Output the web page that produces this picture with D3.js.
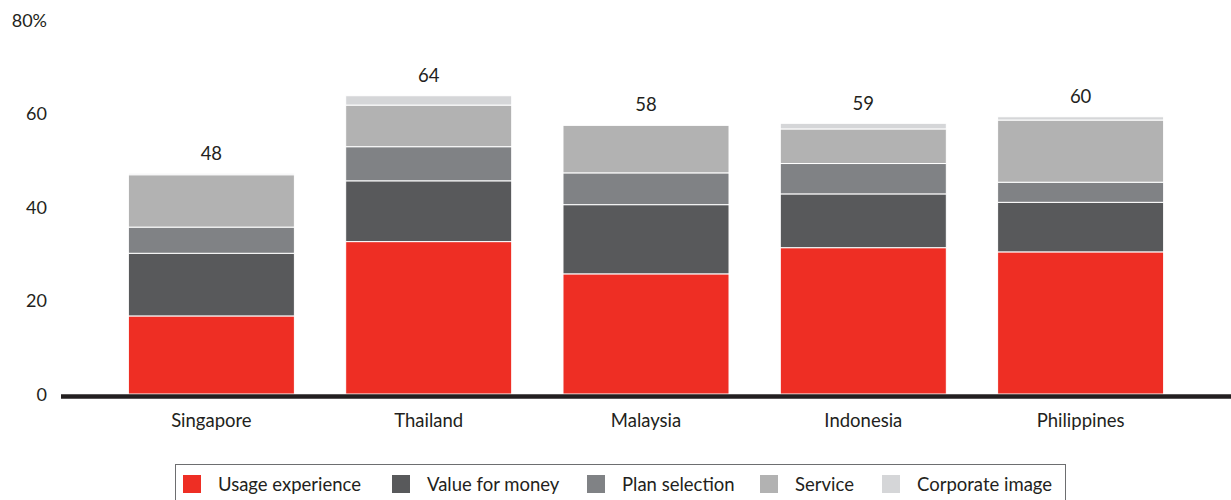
<!DOCTYPE html>
<html>
<head>
<meta charset="utf-8">
<script src="https://cdn.jsdelivr.net/npm/d3@7"></script>
<style>
  html, body { margin: 0; padding: 0; background: #fff; }
  svg text { font-family: "Lato", "DejaVu Sans", sans-serif; fill: #231f20; }
</style>
</head>
<body>
<svg id="chart" width="1231" height="500"></svg>
<script>
const countries = ["Singapore", "Thailand", "Malaysia", "Indonesia", "Philippines"];
const seriesNames = ["Usage experience", "Value for money", "Plan selection", "Service", "Corporate image"];
const usageExperience = [16.7, 32.6, 25.7, 31.3, 30.4];
const valueForMoney   = [13.4, 13.0, 14.8, 11.5, 10.6];
const planSelection   = [5.6, 7.3, 6.8, 6.5, 4.3];
const service         = [11.2, 8.9, 10.2, 7.4, 13.3];
const corporateImage  = [0.3, 2.0, 0.2, 1.2, 0.7];
const totalLabels     = ["48", "64", "58", "59", "60"];
const yTicks          = [0, 20, 40, 60, 80];
const colors = ["#ee2e24", "#58595b", "#808285", "#b2b2b2", "#d5d6d8"];

const seriesValues = [usageExperience, valueForMoney, planSelection, service, corporateImage];
const rows = countries.map((c, i) => {
  const r = { country: c, label: totalLabels[i] };
  seriesNames.forEach((s, j) => r[s] = seriesValues[j][i]);
  return r;
});

const svg = d3.select("#chart");
const x = d3.scaleBand().domain(countries).range([61, 1231]).paddingInner(0.236).paddingOuter(0.31);
const y = d3.scaleLinear().domain([0, 80]).range([394, 20]);

const stacked = d3.stack().keys(seriesNames)(rows);

// bars
svg.append("g").selectAll("g").data(stacked).join("g")
  .attr("fill", (d, i) => colors[i])
  .selectAll("rect").data(d => d).join("rect")
  .attr("x", d => x(d.data.country))
  .attr("width", x.bandwidth())
  .attr("y", d => y(d[1]))
  .attr("height", d => Math.max(0, y(d[0]) - y(d[1])))
  .attr("stroke", "#fff")
  .attr("stroke-width", 1);

// y axis
const yAxis = d3.axisLeft(y).tickValues(yTicks).tickSize(0).tickPadding(0)
  .tickFormat(d => d === 80 ? "80%" : d);
const gy = svg.append("g").attr("transform", "translate(47,0)").call(yAxis);
gy.select(".domain").remove();
gy.selectAll("text").attr("font-size", 18).attr("font-family", "Lato, DejaVu Sans, sans-serif").attr("fill", "#231f20").attr("dy", "0.35em");

// baseline
svg.append("line").attr("x1", 61).attr("x2", 1231).attr("y1", y(0) + 2.5).attr("y2", y(0) + 2.5)
  .attr("stroke", "#231f20").attr("stroke-width", 4.5);

// x axis labels
const xAxis = d3.axisBottom(x).tickSize(0).tickPadding(0);
const gx = svg.append("g").attr("transform", "translate(0,421)").call(xAxis);
gx.select(".domain").remove();
gx.selectAll("text").attr("font-size", 18.5).attr("font-family", "Lato, DejaVu Sans, sans-serif").attr("fill", "#231f20").attr("dy", "0.35em");

// total labels
svg.append("g").selectAll("text").data(stacked[stacked.length - 1]).join("text")
  .attr("x", d => x(d.data.country) + x.bandwidth() / 2)
  .attr("y", d => y(d[1]) - 20)
  .attr("dy", "0.35em")
  .attr("text-anchor", "middle")
  .attr("font-size", 18.5)
  .text(d => d.data.label);

// legend
const legend = svg.append("g");
legend.append("rect").attr("x", 175.5).attr("y", 464.5).attr("width", 890).attr("height", 50)
  .attr("fill", "none").attr("stroke", "#6d6e70").attr("stroke-width", 1);
const swatchX = [183, 392, 587, 760, 882];
const items = legend.selectAll("g").data(seriesNames).join("g")
  .attr("transform", (d, i) => `translate(${swatchX[i]},475)`);
items.append("rect").attr("width", 18).attr("height", 18).attr("fill", (d, i) => colors[i]);
items.append("text").attr("x", 35).attr("y", 10).attr("dy", "0.35em").attr("font-size", 18.5).text(d => d);
</script>
</body>
</html>
